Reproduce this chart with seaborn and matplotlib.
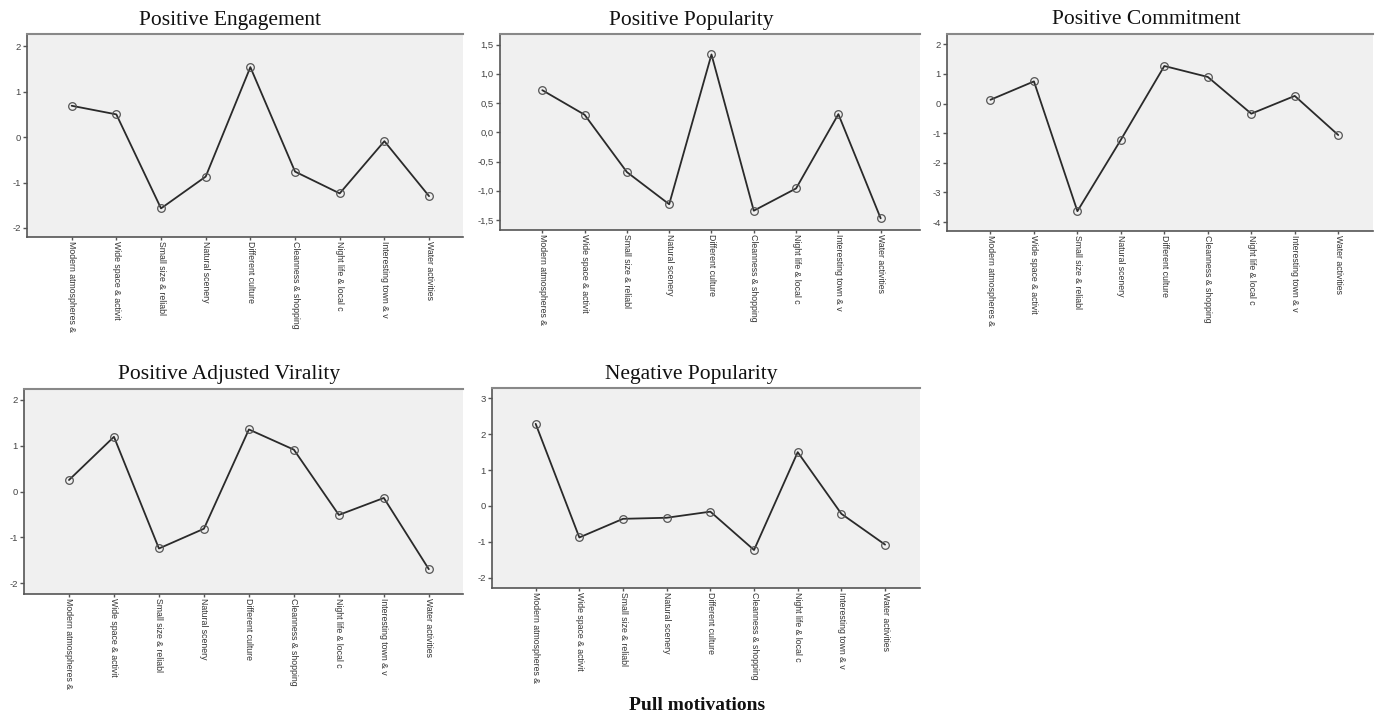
import numpy as np
import pandas as pd
import matplotlib
matplotlib.use("Agg")
import matplotlib.pyplot as plt
from matplotlib.ticker import FuncFormatter
import seaborn as sns

categories = ["Modern atmospheres &", "Wide space & activit", "Small size & reliabl",
              "Natural scenery", "Different culture", "Cleanness & shopping",
              "Night life & local c", "Interesting town & v", "Water activities"]

positive_engagement = [0.69, 0.50, -1.57, -0.87, 1.54, -0.76, -1.24, -0.09, -1.30]
positive_popularity = [0.72, 0.30, -0.68, -1.23, 1.33, -1.34, -0.96, 0.31, -1.47]
positive_commitment = [0.13, 0.75, -3.63, -1.22, 1.27, 0.90, -0.34, 0.26, -1.06]
positive_adj_virality = [0.25, 1.19, -1.24, -0.81, 1.35, 0.91, -0.51, -0.14, -1.69]
negative_popularity = [2.29, -0.88, -0.36, -0.33, -0.16, -1.23, 1.50, -0.22, -1.08]

titles = ["Positive Engagement", "Positive Popularity", "Positive Commitment",
          "Positive Adjusted Virality", "Negative Popularity"]
series = [positive_engagement, positive_popularity, positive_commitment,
          positive_adj_virality, negative_popularity]
yticks = [[-2, -1, 0, 1, 2],
          [-1.5, -1.0, -0.5, 0.0, 0.5, 1.0, 1.5],
          [-4, -3, -2, -1, 0, 1, 2],
          [-2, -1, 0, 1, 2],
          [-2, -1, 0, 1, 2, 3]]
xlabel_text = "Pull motivations"

sns.set_style("white")
plt.rcParams['font.family'] = ['Liberation Sans', 'DejaVu Sans']

W, H = 1380, 717
fig = plt.figure(figsize=(W / 100, H / 100), dpi=100)

# pixel boxes: left, right, top, bottom
boxes = [(27, 463, 34, 237), (500, 920, 34, 230), (947, 1373, 34, 231),
         (24, 463, 389, 594), (492, 920, 388, 588)]
xlims = [(-1.0, 8.76), (-1.0, 8.93), (-1.0, 8.8), (-1.0, 8.76), (-1.0, 8.8)]
ylims = [(-2.2, 2.27), (-1.67, 1.68), (-4.3, 2.35), (-2.23, 2.23), (-2.29, 3.29)]
title_pos = [(230, 20), (691, 20), (1146, 20), (229, 375), (691, 375)]
decimal = [False, True, False, False, False]

for i in range(5):
    l, r, t, b = boxes[i]
    ax = fig.add_axes([l / W, 1 - b / H, (r - l) / W, (b - t) / H])
    ax.set_facecolor("#f0f0f0")
    df = pd.DataFrame({"x": np.arange(len(categories)), "y": series[i]})
    sns.lineplot(data=df, x="x", y="y", ax=ax, sort=False, color="#2a2a2a",
                 linewidth=1.3, marker="o", markersize=5.5, markerfacecolor="none",
                 markeredgecolor="#555555", markeredgewidth=0.9)
    ax.set_xlim(*xlims[i])
    ax.set_ylim(*ylims[i])
    ax.set_xticks(np.arange(len(categories)))
    ax.set_xticklabels(categories, rotation=270, ha="center", va="top",
                       fontsize=6.3, color="#333333")
    ax.set_yticks(yticks[i])
    if decimal[i]:
        ax.yaxis.set_major_formatter(FuncFormatter(lambda v, p: f"{v:.1f}".replace(".", ",").replace("\u2212", "-")))
    else:
        ax.yaxis.set_major_formatter(FuncFormatter(lambda v, p: f"{v:.0f}"))
    for lab in ax.get_yticklabels():
        lab.set_fontsize(6.8)
        lab.set_color("#444444")
    ax.tick_params(axis="x", direction="out", length=2.5, width=1.0,
                   color="#555555", pad=0.5, bottom=True)
    ax.tick_params(axis="y", direction="out", length=3, width=1.0,
                   color="#555555", pad=1.5, left=True)
    ax.set_xlabel("")
    ax.set_ylabel("")
    ax.spines["left"].set_color("#555555")
    ax.spines["bottom"].set_color("#555555")
    ax.spines["left"].set_linewidth(1.2)
    ax.spines["bottom"].set_linewidth(1.2)
    ax.spines["top"].set_color("#888888")
    ax.spines["top"].set_linewidth(1.5)
    ax.spines["right"].set_visible(False)
    tx, ty = title_pos[i]
    fig.text(tx / W, 1 - ty / H, titles[i], ha="center", va="center",
             fontsize=15.5, family=["Liberation Serif", "DejaVu Serif"], color="#111111")

fig.text(697 / W, 1 - 705 / H, xlabel_text, ha="center", va="center",
         fontsize=14, fontweight="bold", family=["Liberation Serif", "DejaVu Serif"],
         color="#111111")

fig.savefig("out.png", dpi=100, facecolor="white")
